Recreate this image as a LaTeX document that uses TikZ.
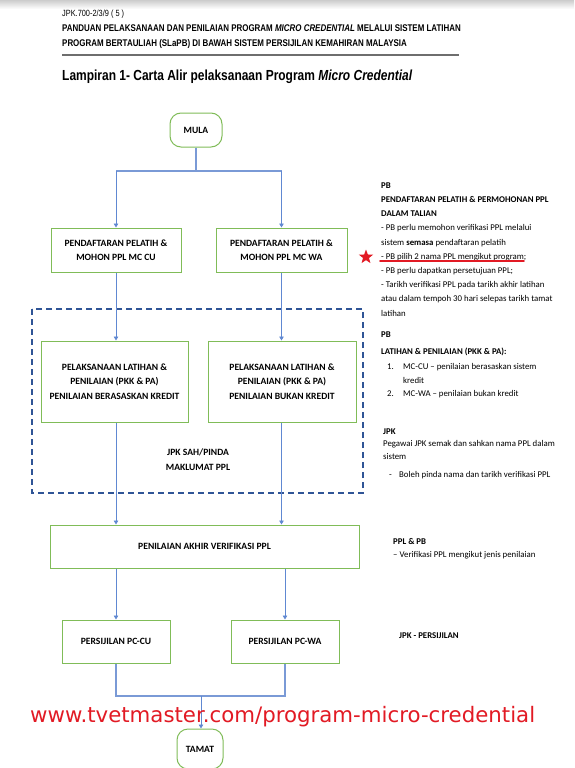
\documentclass[tikz,border=0pt]{standalone}
\usepackage{fontspec}
\setmainfont{Carlito}
\newfontfamily\hdrfont[FakeStretch=0.82]{Liberation Sans}
\newfontfamily\wmfont{DejaVu Sans}
\usetikzlibrary{positioning,arrows.meta,shapes.geometric}
\definecolor{boxgreen}{RGB}{128,188,88}
\definecolor{flowblue}{RGB}{96,136,210}
\definecolor{trunkblue}{RGB}{122,154,214}
\definecolor{groupblue}{RGB}{47,84,150}
\definecolor{markred}{RGB}{226,26,36}
\definecolor{rulegray}{RGB}{110,110,110}

\begin{document}
\begin{tikzpicture}[x=1pt, y=-1pt,
        stepbox/.style={draw=boxgreen, line width=1pt, fill=white, align=center, inner sep=0pt,
            font=\fontsize{9.6}{14.5}\selectfont\bfseries},
        endbox/.style={stepbox, rounded corners=11pt},
        arrow/.style={draw=flowblue, line width=0.8pt, -{Triangle[width=4.5pt,length=4pt]}},
        trunk/.style={draw=trunkblue, line width=1.7pt},
        note/.style={anchor=base west, inner sep=0pt, align=left}
    ]
        \useasboundingbox (0,0) rectangle (574,768);
        \fill[white] (0,0) rectangle (574,768);
        \shade[top color=gray!40, bottom color=white] (0,0) rectangle (574,9);

        % page header (multi-line notes sit on their last baseline)
        \node[note, font=\hdrfont\fontsize{9}{10}\selectfont] (code) at (62,16.5) {JPK.700-2/3/9 ( 5 )};
        \node[note, font=\hdrfont\fontsize{9.7}{15}\selectfont\bfseries] (head) at (62,47)
            {PANDUAN PELAKSANAAN DAN PENILAIAN PROGRAM \textit{MICRO CREDENTIAL} MELALUI SISTEM LATIHAN\\
             PROGRAM BERTAULIAH (SLaPB) DI BAWAH SISTEM PERSIJILAN KEMAHIRAN MALAYSIA};
        \draw[rulegray, line width=1.8pt] (62,55) -- (459,55);
        \node[note, font=\hdrfont\fontsize{14.6}{16}\selectfont\bfseries] (title) at (62,80.5)
            {Lampiran 1- Carta Alir pelaksanaan Program \textit{Micro Credential}};

        % flow chart
        \draw[groupblue, line width=1.5pt, dash pattern=on 6pt off 4pt] (32,309) rectangle (363,493);

        \node[endbox, minimum width=52pt, minimum height=34pt] (mula) at (196,130) {MULA};
        \node[stepbox, minimum width=130pt, minimum height=44pt] (cu1) at (116,250)
            {PENDAFTARAN PELATIH \&\\MOHON PPL MC CU};
        \node[stepbox, minimum width=131pt, minimum height=44pt] (wa1) at (281.5,250)
            {PENDAFTARAN PELATIH \&\\MOHON PPL MC WA};
        \node[stepbox, minimum width=147pt, minimum height=81pt] (cu2) at (114.5,381.5)
            {PELAKSANAAN LATIHAN \&\\PENILAIAN (PKK \& PA)\\PENILAIAN BERASASKAN KREDIT};
        \node[stepbox, minimum width=148pt, minimum height=81pt] (wa2) at (282,381.5)
            {PELAKSANAAN LATIHAN \&\\PENILAIAN (PKK \& PA)\\PENILAIAN BUKAN KREDIT};
        \node[align=center, font=\fontsize{9.6}{15}\selectfont\bfseries] (jpk) at (198,459.5)
            {JPK SAH/PINDA\\MAKLUMAT PPL};
        \node[stepbox, minimum width=309pt, minimum height=43pt] (verif) at (204.5,546.5)
            {PENILAIAN AKHIR VERIFIKASI PPL};
        \node[stepbox, minimum width=108pt, minimum height=43pt] (pccu) at (116,641.5) {PERSIJILAN PC-CU};
        \node[stepbox, minimum width=108pt, minimum height=43pt] (pcwa) at (285,641.5) {PERSIJILAN PC-WA};
        \node[endbox, minimum width=46pt, minimum height=40pt] (tamat) at (200,749) {TAMAT};

        \coordinate (split) at (196,171);
        \coordinate (merge) at (201,696);
        \draw[trunk] (mula.south) -- (split);
        \draw[trunk] (cu1.north |- split) -- (wa1.north |- split);
        \draw[arrow] (cu1.north |- split) -- (cu1.north);
        \draw[arrow] (wa1.north |- split) -- (wa1.north);
        \draw[arrow] (cu1.south) -- (cu1.south |- cu2.north);
        \draw[arrow] (wa1.south) -- (wa1.south |- wa2.north);
        \draw[arrow] (cu1.south |- cu2.south) -- (cu1.south |- verif.north);
        \draw[arrow] (wa1.south |- wa2.south) -- (wa1.south |- verif.north);
        \draw[arrow] (pccu.north |- verif.south) -- (pccu.north);
        \draw[arrow] (pcwa.north |- verif.south) -- (pcwa.north);
        \draw[trunk] (pccu.south) |- (merge) -| (pcwa.south);
        \draw[arrow] (merge) -- (merge |- tamat.north);

        % notes on the right
        \node[note, font=\fontsize{8.8}{14.2}\selectfont] (n1) at (381,316)
            {\textbf{PB}\\
             \textbf{PENDAFTARAN PELATIH \& PERMOHONAN PPL}\\
             \textbf{DALAM TALIAN}\\
             - PB perlu memohon verifikasi PPL melalui\\
             sistem \textbf{semasa} pendaftaran pelatih\\
             - PB pilih 2 nama PPL mengikut program;\\
             - PB perlu dapatkan persetujuan PPL;\\
             - Tarikh verifikasi PPL pada tarikh akhir latihan\\
             atau dalam tempoh 30 hari selepas tarikh tamat\\
             latihan};
        \node[star, star points=5, star point ratio=2.4, fill=markred, inner sep=0pt, minimum size=15pt] (star) at (366,257) {};
        \coordinate (lineA) at (380,261);
        \coordinate (lineB) at (524,261);
        \draw[markred, line width=1.8pt, line cap=round] (lineA) -- (lineB);

        \node[note, font=\fontsize{8.8}{13.3}\selectfont] (n2) at (381,396.5)
            {\textbf{PB}\\[3.7pt]
             \textbf{LATIHAN \& PENILAIAN (PKK \& PA):}\\[1.7pt]
             \hspace*{6pt}\makebox[16pt][l]{1.}MC-CU -- penilaian berasaskan sistem\\
             \hspace*{22pt}kredit\\
             \hspace*{6pt}\makebox[16pt][l]{2.}MC-WA -- penilaian bukan kredit};
        \node[note, font=\fontsize{8.8}{12.5}\selectfont] (n3) at (383,477.5)
            {\textbf{JPK}\\
             Pegawai JPK semak dan sahkan nama PPL dalam\\
             sistem\\[6pt]
             \hspace*{6pt}\makebox[10pt][l]{-}Boleh pinda nama dan tarikh verifikasi PPL};
        \node[note, font=\fontsize{8.8}{13}\selectfont] (n4) at (393,557)
            {\textbf{PPL \& PB}\\
             -- Verifikasi PPL mengikut jenis penilaian};
        \node[note, font=\fontsize{8.8}{13}\selectfont\bfseries] (n5) at (399,638) {JPK - PERSIJILAN};

        % watermark
        \node[note, text=markred, font=\wmfont\fontsize{21.3}{24}\selectfont] (mark) at (30,722)
            {www.tvetmaster.com/program-micro-credential};
    \end{tikzpicture}
\end{document}
